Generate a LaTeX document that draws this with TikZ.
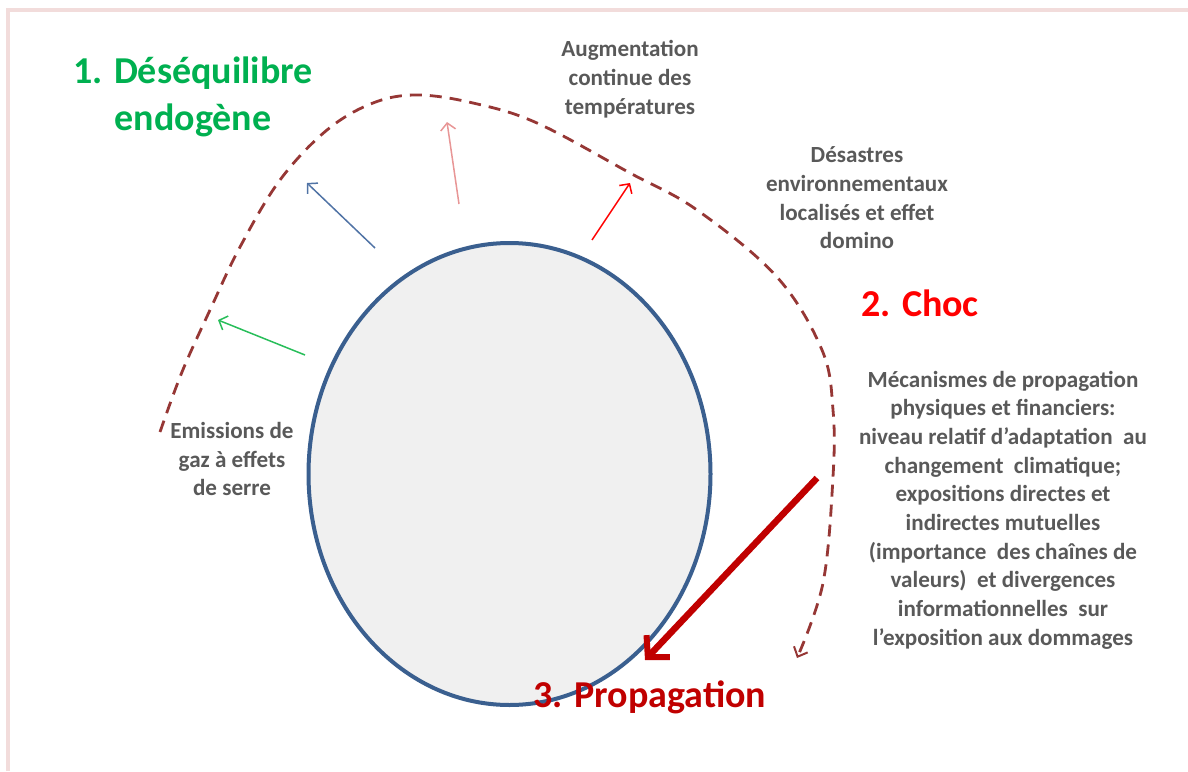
\documentclass[tikz,border=0pt]{standalone}
\usepackage{fontspec}
\setmainfont{Carlito}
\usetikzlibrary{arrows.meta,shapes.geometric}
\definecolor{framec}{RGB}{242,220,219}
\definecolor{dashc}{RGB}{150,55,53}
\definecolor{earthfill}{RGB}{240,240,240}
\definecolor{earthline}{RGB}{58,95,143}
\definecolor{txtgray}{RGB}{89,89,89}
\definecolor{titlegreen}{RGB}{0,176,80}
\definecolor{titlered}{RGB}{255,0,0}
\definecolor{darkred}{RGB}{192,0,0}
\definecolor{agreen}{RGB}{40,190,90}
\definecolor{ablue}{RGB}{80,115,165}
\definecolor{apink}{RGB}{232,150,150}
\tikzset{
  body/.style={text=txtgray, align=center, inner sep=0pt, font=\bfseries\fontsize{23.1}{28.7}\selectfont},
  title/.style={align=center, inner sep=0pt, font=\bfseries\fontsize{38}{47}\selectfont},
  thinarrow/.style={line width=1.5pt, -{Straight Barb[length=7pt,width=15pt,line width=1.5pt]}},
}
\begin{document}
\begin{tikzpicture}[x=1pt,y=-1pt]
\useasboundingbox (0,0) rectangle (1188,771);
\draw[framec, line width=4pt] (8,771) -- (8,9.5) -- (1188,9.5);

% earth
\node (earth) [draw=earthline, fill=earthfill, line width=4pt, ellipse, minimum width=402pt, minimum height=462pt, inner sep=0pt] at (509.5,474) {};

% dashed loop
\coordinate (dstart) at (160,432);
\coordinate (dend) at (797,658);
\draw[dashc, line width=2.8pt, dash pattern=on 12pt off 8pt, -{Straight Barb[length=8pt,width=15pt,line width=2pt]}]
  plot[smooth, tension=0.6] coordinates {(dstart) (182,372) (210,310) (240,247) (280,180) (327,130) (373,103) (417,95) (473,103) (537,123) (630,173) (697,210) (777,277) (822,350) (833,410) (833,477) (823,583) (dend)};

% small arrows
\coordinate (g1) at (305,355); \coordinate (g2) at (218,320);
\coordinate (b1) at (375,248); \coordinate (b2) at (307,183);
\coordinate (p1) at (459,204); \coordinate (p2) at (447,122);
\coordinate (r1) at (592,240); \coordinate (r2) at (630,183);
\draw[agreen, thinarrow] (g1) -- (g2);
\draw[ablue, thinarrow] (b1) -- (b2);
\draw[apink, thinarrow] (p1) -- (p2);
\draw[red, thinarrow] (r1) -- (r2);

% big red arrow
\coordinate (R1) at (817,478); \coordinate (R2) at (645,660);
\draw[darkred, line width=6.5pt, -{Straight Barb[length=15pt,width=32pt,line width=6pt]}] (R1) -- (R2);

% texts
\node[title, text=titlegreen] (t1) at (193,96.5) {1. Déséquilibre\\endogène};
\node[title, text=titlered] (t2) at (920,303) {2. Choc};
\node[title, text=darkred] (t3) at (650,697) {3. Propagation};
\node[body] (aug) at (630,79) {Augmentation\\continue des\\températures};
\node[body] (des) at (857,198) {Désastres\\environnementaux\\localisés et effet\\domino};
\node[body] (emi) at (232,459) {Emissions de\\gaz à effets\\de serre};
\node[body] (mec) at (1003,510) {Mécanismes de propagation\\physiques et financiers:\\niveau relatif d’adaptation\ \ au\\changement\ \ climatique;\\expositions directes et\\indirectes mutuelles\\(importance\ \ des chaînes de\\valeurs)\ \ et divergences\\informationnelles\ \ sur\\l’exposition aux dommages};
\end{tikzpicture}
\end{document}
